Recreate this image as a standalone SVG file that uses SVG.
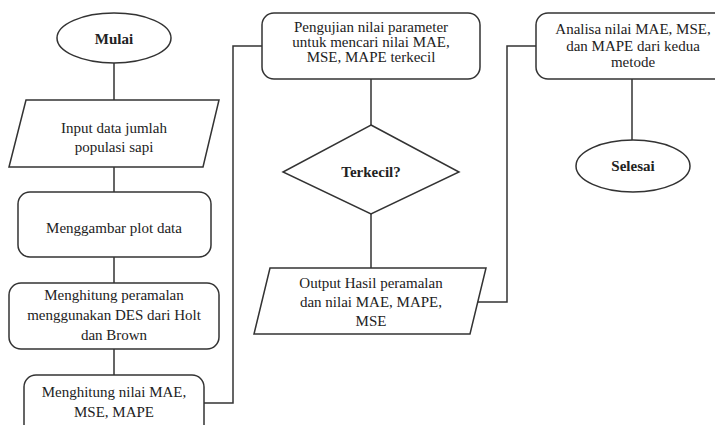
<svg xmlns="http://www.w3.org/2000/svg" width="715" height="425" viewBox="0 0 715 425">
<style>
.s{fill:#fff;stroke:#333;stroke-width:1.5}
.c{fill:none;stroke:#333;stroke-width:1.5}
text{font-family:"Liberation Serif","Times New Roman",serif;font-size:15px;fill:#222;text-anchor:middle}
.b{font-weight:bold}
</style>
<rect width="715" height="425" fill="#fff"/>
<g id="connectors">
<path class="c" d="M114 63V100M114 167V192M114 257V283M114 349V375"/>
<path class="c" d="M204 403H233V46H262"/>
<path class="c" d="M371 79V125M371 214V268"/>
<path class="c" d="M478 302H507V46H536"/>
<path class="c" d="M632 79V140"/>
</g>
<g id="mulai">
<ellipse class="s" cx="114" cy="38" rx="57" ry="25"/>
<text class="b" x="114" y="44">Mulai</text>
</g>
<g id="input">
<polygon class="s" points="26,100 219,100 203,167 9,167"/>
<text x="114" y="133">Input data jumlah</text>
<text x="114" y="152">populasi sapi</text>
</g>
<g id="plot">
<rect class="s" x="18" y="192" width="193" height="65" rx="12"/>
<text x="114" y="233">Menggambar plot data</text>
</g>
<g id="des">
<rect class="s" x="9" y="283" width="210" height="66" rx="12"/>
<text x="114" y="300">Menghitung peramalan</text>
<text x="114" y="320">menggunakan DES dari Holt</text>
<text x="114" y="340">dan Brown</text>
</g>
<g id="nilai">
<rect class="s" x="24" y="375" width="180" height="70" rx="12"/>
<text x="114" y="397">Menghitung nilai MAE,</text>
<text x="114" y="417">MSE, MAPE</text>
</g>
<g id="pengujian">
<rect class="s" x="262" y="13" width="218" height="66" rx="12"/>
<text x="371" y="32">Pengujian nilai parameter</text>
<text x="371" y="47">untuk mencari nilai MAE,</text>
<text x="371" y="62">MSE, MAPE terkecil</text>
</g>
<g id="terkecil">
<polygon class="s" points="371,125 459,172 371,214 283,172"/>
<text class="b" x="371" y="177">Terkecil?</text>
</g>
<g id="output">
<polygon class="s" points="270,268 486,268 470,334 254,334"/>
<text x="371" y="288">Output Hasil peramalan</text>
<text x="371" y="307">dan nilai MAE, MAPE,</text>
<text x="371" y="326">MSE</text>
</g>
<g id="analisa">
<rect class="s" x="536" y="13" width="194" height="66" rx="12"/>
<text x="633" y="34">Analisa nilai MAE, MSE,</text>
<text x="633" y="51">dan MAPE dari kedua</text>
<text x="633" y="67">metode</text>
</g>
<g id="selesai">
<ellipse class="s" cx="633" cy="166" rx="57" ry="26"/>
<text class="b" x="633" y="171">Selesai</text>
</g>
</svg>
